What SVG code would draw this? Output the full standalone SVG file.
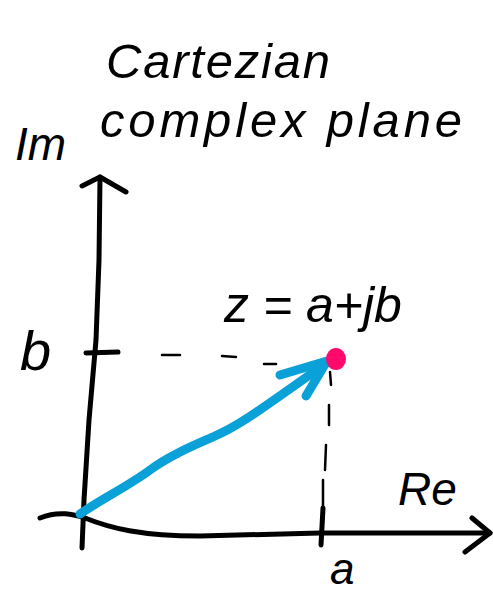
<svg xmlns="http://www.w3.org/2000/svg" width="493" height="598" viewBox="0 0 493 598">
<style>
.ink{fill:none;stroke:#000;stroke-width:5;stroke-linecap:round;stroke-linejoin:round}
.thin{fill:none;stroke:#000;stroke-width:2.5;stroke-linecap:round}
.vec{fill:none;stroke:#0aa0d8;stroke-width:9;stroke-linecap:round;stroke-linejoin:round}
.t{font-family:"Liberation Sans",Arial,sans-serif;font-style:italic;fill:#000}
</style>
<rect width="493" height="598" fill="#fff"/>
<g id="title">
<text class="t" x="106" y="78" font-size="49" textLength="224" lengthAdjust="spacing">Cartezian</text>
<text class="t" x="100" y="137" font-size="49" textLength="362" lengthAdjust="spacing">complex plane</text>
</g>
<g id="connectors">
<path id="im-axis" class="ink" d="M100,177 L99,260 L96,340 L89,420 L84,500 L82,548"/>
<path class="ink" d="M82,186 L100,177 L126,192"/>
<path id="re-axis" class="ink" d="M40,518 C60,510 75,515 85,518 C110,528 140,536 200,536 L320,533 L490,533"/>
<path class="ink" d="M472,518 L490,533 L465,552"/>
<path class="ink" d="M323,508 L321,545"/>
<path class="ink" d="M86,353 L118,352"/>
<path class="thin" d="M162,355 L180,355 M222,356 L236,357 M264,364 L276,364"/>
<path class="thin" d="M330,372 L331,385 M329,405 L329,425 M326,445 L325,470 M323,480 L323,510"/>
<path class="vec" d="M80,514 C100,500 130,485 150,470 C170,455 195,445 215,436 C240,425 260,410 325,364"/>
<path class="vec" d="M280,375 L327,361 L306,396"/>
</g>
<g id="point">
<ellipse cx="336" cy="359" rx="10" ry="11" fill="#ff0a6c"/>
</g>
<g id="labels">
<text class="t" x="15" y="160" font-size="46">Im</text>
<text class="t" x="20" y="370" font-size="56">b</text>
<text class="t" x="224" y="322" font-size="50">z = a+jb</text>
<text class="t" x="398" y="505" font-size="46">Re</text>
<text class="t" x="330" y="584" font-size="44">a</text>
</g>
</svg>
